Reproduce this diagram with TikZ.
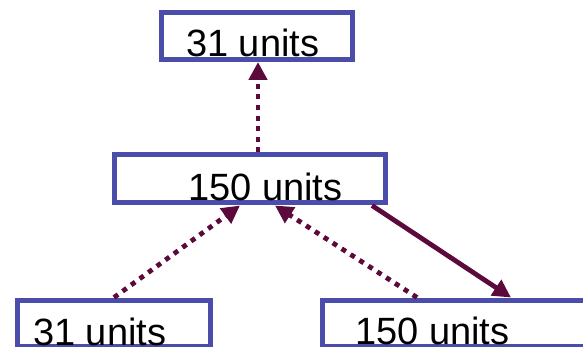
\documentclass[tikz,border=0pt]{standalone}
\usepackage{fontspec}
\setmainfont{Liberation Sans}
\usetikzlibrary{arrows.meta}
\definecolor{boxblue}{RGB}{74,78,170}
\definecolor{linkred}{RGB}{92,10,60}

\begin{document}
\begin{tikzpicture}[x=1pt,y=-1pt,
  link/.style={draw=linkred,line width=4.8pt,-{Triangle[length=18pt,width=18pt]}},
  dotlink/.style={link,dash pattern=on 5pt off 5.6pt},
  ]
  \useasboundingbox (0,0) rectangle (583,347);
  \begin{scope}[
    every node/.style={
      draw=boxblue,
      line width=5pt,
      inner sep=0pt,
    },
    ]
    \foreach \name/\x/\y/\w/\h in
    {top/257/36/191/47,mid/250/179/271/48,left/114/323/193/46,right/461/323/278/46}
    {
      \node[minimum width=\w pt,minimum height=\h pt] (\name) at (\x,\y) {};
    }
  \end{scope}
  \begin{scope}[
    every node/.style={
      anchor=base west,
      inner sep=0pt,
      font=\fontsize{38}{40}\selectfont,
    },
    ]
    \node (toplabel) at (186,57) {31 units};
    \node (midlabel) at (188,201) {150 units};
    \node (leftlabel) at (33,345) {31 units};
    \node (rightlabel) at (355,344) {150 units};
  \end{scope}
  \draw[dotlink] ([xshift=8pt]mid.north) -- ([xshift=1pt]top.south);
  \draw[dotlink] (left.north) -- ([xshift=-10pt]mid.south);
  \draw[dotlink] ([xshift=-44pt]right.north) -- ([xshift=25pt]mid.south);
  \draw[link] ([xshift=122pt]mid.south) -- ([xshift=50pt]right.north);
\end{tikzpicture}
\end{document}
